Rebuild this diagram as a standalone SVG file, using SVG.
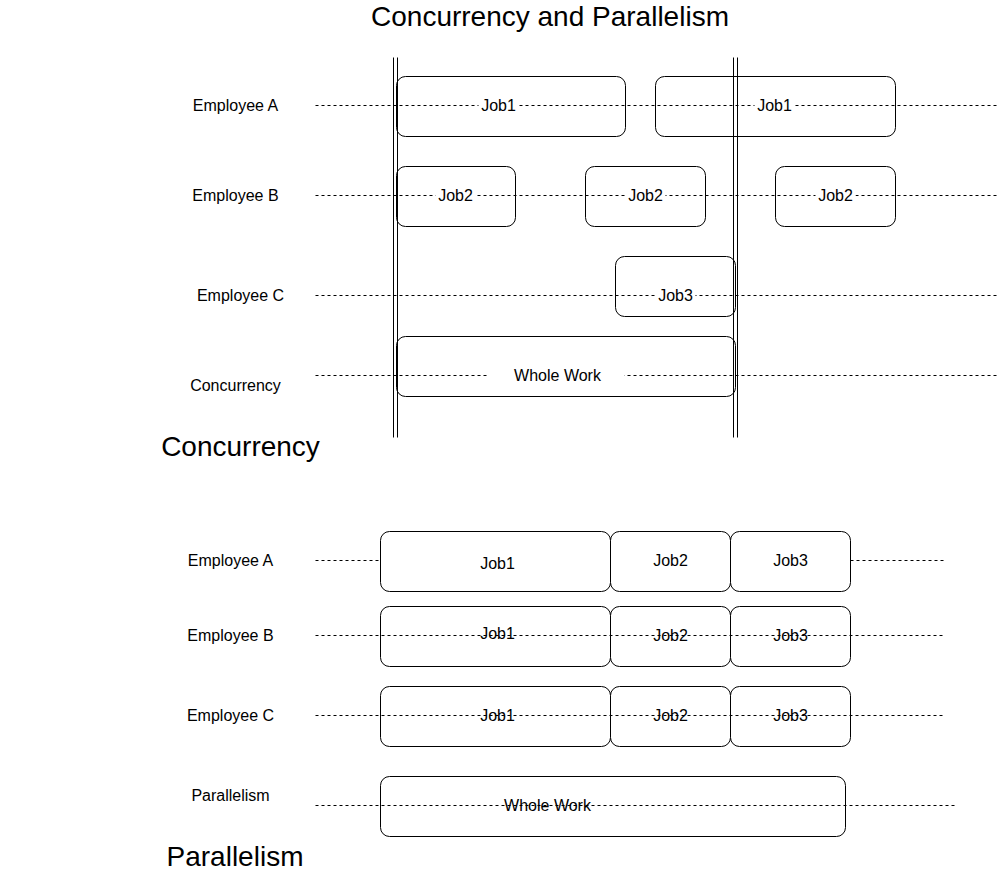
<svg xmlns="http://www.w3.org/2000/svg" width="997" height="873" viewBox="0 0 997 873">
<style>
text{font-family:"Liberation Sans",Arial,sans-serif;fill:#000;text-anchor:middle;dominant-baseline:central}
.lbl{font-size:16px}
.job{font-size:16px}
.head{font-size:28px}
.box{fill:none;stroke:#000;stroke-width:1}
.wbox{fill:#fff;stroke:#000;stroke-width:1}
.dash{stroke:#000;stroke-width:1;stroke-dasharray:3 3;fill:none}
.vline{stroke:#000;stroke-width:1;fill:none}
.bg{fill:#fff}
</style>
<rect width="997" height="873" fill="#fff"/>
<text class="head" x="550" y="16">Concurrency and Parallelism</text>
<g transform="translate(0.5,0.5)">
<g id="connectors">
  <line class="dash" x1="315" y1="105" x2="997" y2="105"/>
  <line class="dash" x1="315" y1="195" x2="997" y2="195"/>
  <line class="dash" x1="315" y1="295" x2="997" y2="295"/>
  <line class="dash" x1="315" y1="375" x2="997" y2="375"/>
  <line class="dash" x1="315" y1="560" x2="380" y2="560"/>
  <line class="dash" x1="850" y1="560" x2="943" y2="560"/>
</g>

<g id="concurrency-boundaries">
  <line class="vline" x1="393" y1="57" x2="393" y2="437"/>
  <line class="vline" x1="397" y1="57" x2="397" y2="437"/>
  <line class="vline" x1="733" y1="57" x2="733" y2="437"/>
  <line class="vline" x1="737" y1="57" x2="737" y2="437"/>
</g>

<g id="c-labels">
  <text class="lbl" x="235" y="105">Employee A</text>
  <text class="lbl" x="235" y="195">Employee B</text>
  <text class="lbl" x="240" y="295">Employee C</text>
  <text class="lbl" x="235" y="385">Concurrency</text>
</g>

<g id="c-a-job1"><rect class="box" x="396" y="76" width="229" height="60" rx="9"/><rect class="bg" x="478" y="97" width="40" height="18"/><text class="job" x="498" y="105">Job1</text></g>
<g id="c-a-job1b"><rect class="box" x="655" y="76" width="240" height="60" rx="9"/><rect class="bg" x="754" y="97" width="40" height="18"/><text class="job" x="774" y="105">Job1</text></g>
<g id="c-b-job2a"><rect class="box" x="396" y="166" width="119" height="60" rx="9"/><rect class="bg" x="435" y="187" width="40" height="18"/><text class="job" x="455" y="195">Job2</text></g>
<g id="c-b-job2b"><rect class="box" x="585" y="166" width="120" height="60" rx="9"/><rect class="bg" x="625" y="187" width="40" height="18"/><text class="job" x="645" y="195">Job2</text></g>
<g id="c-b-job2c"><rect class="box" x="775" y="166" width="120" height="60" rx="9"/><rect class="bg" x="815" y="187" width="40" height="18"/><text class="job" x="835" y="195">Job2</text></g>
<g id="c-c-job3"><rect class="box" x="615" y="256" width="120" height="60" rx="9"/><rect class="bg" x="655" y="287" width="40" height="18"/><text class="job" x="675" y="295">Job3</text></g>
<g id="c-whole"><rect class="box" x="396" y="336" width="339" height="60" rx="9"/><rect class="bg" x="488" y="366" width="136" height="18"/><text class="job" x="557" y="375">Whole Work</text></g>

<text class="head" x="240" y="446">Concurrency</text>

<g id="p-labels">
  <text class="lbl" x="230" y="560">Employee A</text>
  <text class="lbl" x="230" y="635">Employee B</text>
  <text class="lbl" x="230" y="715">Employee C</text>
  <text class="lbl" x="230" y="795">Parallelism</text>
</g>

<g id="p-a-job1"><rect class="wbox" x="380" y="531" width="230" height="60" rx="9"/><text class="job" x="497" y="563">Job1</text></g>
<g id="p-a-job2"><rect class="wbox" x="610" y="531" width="120" height="60" rx="9"/><text class="job" x="670" y="560">Job2</text></g>
<g id="p-a-job3"><rect class="wbox" x="730" y="531" width="120" height="60" rx="9"/><text class="job" x="790" y="560">Job3</text></g>

<g id="p-b-job1"><rect class="wbox" x="380" y="606" width="230" height="60" rx="9"/><text class="job" x="497" y="633">Job1</text></g>
<g id="p-b-job2"><rect class="wbox" x="610" y="606" width="120" height="60" rx="9"/><text class="job" x="670" y="635">Job2</text></g>
<g id="p-b-job3"><rect class="wbox" x="730" y="606" width="120" height="60" rx="9"/><text class="job" x="790" y="635">Job3</text></g>

<g id="p-c-job1"><rect class="wbox" x="380" y="686" width="230" height="60" rx="9"/><text class="job" x="497" y="715">Job1</text></g>
<g id="p-c-job2"><rect class="wbox" x="610" y="686" width="120" height="60" rx="9"/><text class="job" x="670" y="715">Job2</text></g>
<g id="p-c-job3"><rect class="wbox" x="730" y="686" width="120" height="60" rx="9"/><text class="job" x="790" y="715">Job3</text></g>

<g id="p-whole"><rect class="wbox" x="380" y="776" width="465" height="60" rx="9"/><text class="job" x="547" y="805">Whole Work</text></g>

<g id="connectors-over">
  <line class="dash" x1="315" y1="635" x2="945" y2="635"/>
  <line class="dash" x1="315" y1="715" x2="945" y2="715"/>
  <line class="dash" x1="315" y1="805" x2="955" y2="805"/>
</g>
</g>
<text class="head" x="235" y="856">Parallelism</text>
</svg>
